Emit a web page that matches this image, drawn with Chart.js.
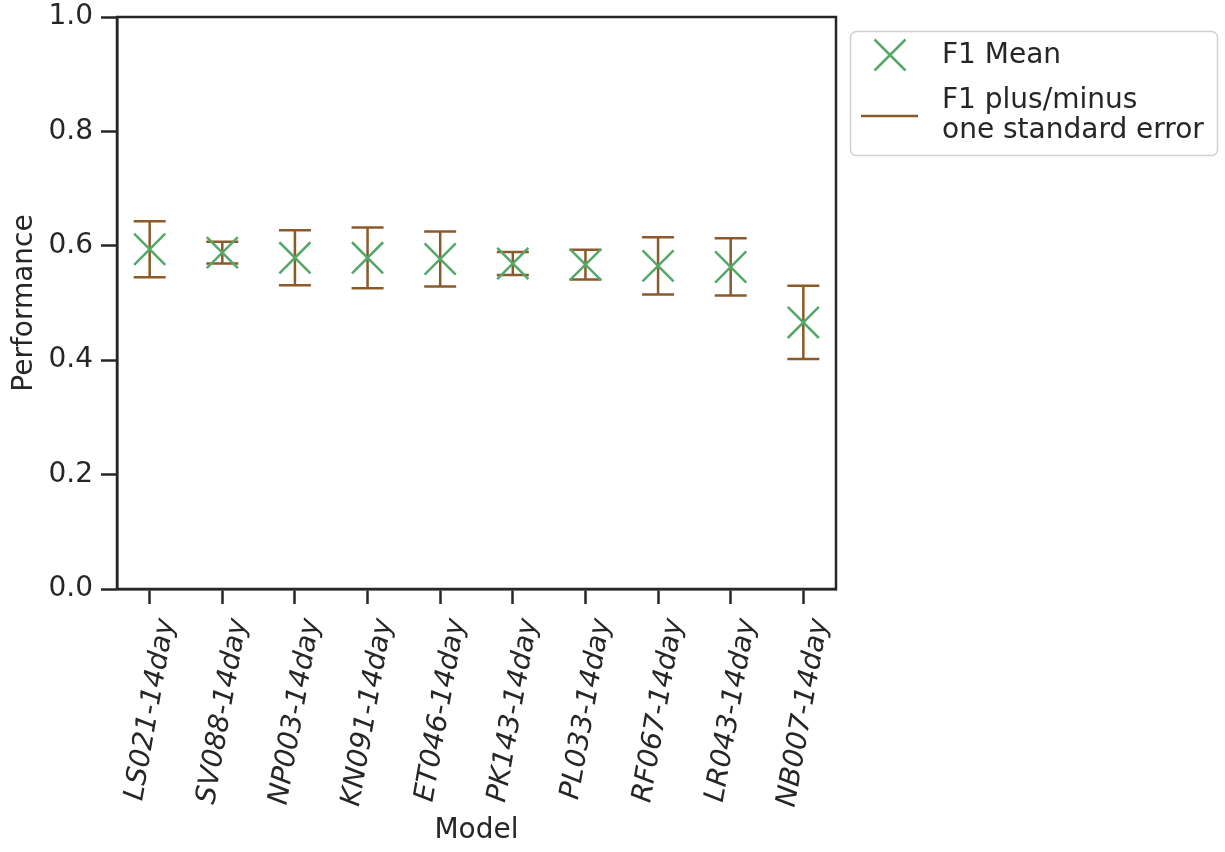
<!DOCTYPE html>
<html>
<head>
<meta charset="utf-8">
<title>F1 performance by model</title>
<script src="https://cdn.jsdelivr.net/npm/chart.js@4.4.1/dist/chart.umd.min.js"></script>
<style>
  html, body { margin: 0; padding: 0; background: #ffffff; }
  #wrap { width: 1225px; height: 852px; }
</style>
</head>
<body>
<div id="wrap"><canvas id="chart" width="1225" height="852"></canvas></div>
<script>
// Models, in the order plotted
const models = [
  'LS021-14day', 'SV088-14day', 'NP003-14day', 'KN091-14day', 'ET046-14day',
  'PK143-14day', 'PL033-14day', 'RF067-14day', 'LR043-14day', 'NB007-14day'
];
// Mean F1 score per model
const f1Mean = [0.594, 0.588, 0.579, 0.579, 0.577, 0.569, 0.567, 0.565, 0.563, 0.466];
// One standard error of the F1 score per model
const f1StdErr = [0.049, 0.019, 0.048, 0.053, 0.048, 0.020, 0.026, 0.050, 0.050, 0.064];
// Y axis ticks
const yTicks = [0.0, 0.2, 0.4, 0.6, 0.8, 1.0];

const INK = '#262626';
const GREEN = '#55a868';
const BROWN = '#8b5a2b';
const FONT = '"DejaVu Sans", "Liberation Sans", sans-serif';
const FS = 28;

const meanPoints = f1Mean.map((m, i) => ({ x: i, y: m }));
// each error bar: lower end, upper end, then a gap so bars stay separate
const errorPoints = [];
f1Mean.forEach((m, i) => {
  errorPoints.push({ x: i, y: m - f1StdErr[i] });
  errorPoints.push({ x: i, y: m + f1StdErr[i] });
  errorPoints.push({ x: i, y: null });
});

// full box around the plotting area
const frame = {
  id: 'frame',
  afterDraw(chart) {
    const { ctx, chartArea: a } = chart;
    ctx.save();
    ctx.strokeStyle = INK;
    ctx.lineWidth = 2.5;
    ctx.strokeRect(a.left, a.top, a.right - a.left, a.bottom - a.top);
    ctx.restore();
  }
};

// legend box to the right of the plot
const sideLegend = {
  id: 'sideLegend',
  afterDraw(chart) {
    const { ctx } = chart;
    const dsMean = chart.data.datasets[0];
    const dsErr = chart.data.datasets[1];
    ctx.save();
    // box
    const bx = 850.5, by = 31.5, bw = 367, bh = 124, r = 6;
    ctx.beginPath();
    ctx.moveTo(bx + r, by);
    ctx.arcTo(bx + bw, by, bx + bw, by + bh, r);
    ctx.arcTo(bx + bw, by + bh, bx, by + bh, r);
    ctx.arcTo(bx, by + bh, bx, by, r);
    ctx.arcTo(bx, by, bx + bw, by, r);
    ctx.closePath();
    ctx.fillStyle = 'rgba(255,255,255,0.8)';
    ctx.fill();
    ctx.strokeStyle = '#d0d0d0';
    ctx.lineWidth = 1.5;
    ctx.stroke();

    // X marker
    const cx = 890, cy = 55, half = 15.5;
    ctx.strokeStyle = dsMean.pointBorderColor;
    ctx.lineWidth = dsMean.pointBorderWidth;
    ctx.beginPath();
    ctx.moveTo(cx - half, cy - half); ctx.lineTo(cx + half, cy + half);
    ctx.moveTo(cx + half, cy - half); ctx.lineTo(cx - half, cy + half);
    ctx.stroke();

    // line marker
    ctx.strokeStyle = dsErr.borderColor;
    ctx.lineWidth = dsErr.borderWidth;
    ctx.beginPath();
    ctx.moveTo(861, 116); ctx.lineTo(918, 116);
    ctx.stroke();

    // texts
    ctx.fillStyle = INK;
    ctx.font = FS + 'px ' + FONT;
    ctx.textAlign = 'left';
    ctx.textBaseline = 'middle';
    ctx.fillText(dsMean.label, 942, 56);
    const lines = dsErr.label.split('\n');
    ctx.fillText(lines[0], 942, 101);
    ctx.fillText(lines[1], 942, 131);
    ctx.restore();
  }
};

new Chart(document.getElementById('chart'), {
  type: 'line',
  data: {
    datasets: [
      {
        label: 'F1 Mean',
        data: meanPoints,
        showLine: false,
        pointStyle: 'crossRot',
        pointRadius: 22,
        pointHoverRadius: 22,
        pointBorderColor: GREEN,
        pointBackgroundColor: GREEN,
        pointBorderWidth: 2.5,
        borderColor: GREEN
      },
      {
        label: 'F1 plus/minus\none standard error',
        data: errorPoints,
        spanGaps: false,
        tension: 0,
        borderColor: BROWN,
        borderWidth: 2.5,
        pointStyle: 'line',
        pointRadius: 16,
        pointHoverRadius: 16,
        pointBorderColor: BROWN,
        pointBorderWidth: 2.5
      }
    ]
  },
  options: {
    responsive: false,
    animation: false,
    devicePixelRatio: 1,
    layout: {
      autoPadding: false,
      padding: { top: 17, right: 389, left: 0, bottom: 0 }
    },
    plugins: {
      legend: { display: false },
      tooltip: { enabled: false }
    },
    scales: {
      x: {
        type: 'linear',
        min: -0.45,
        max: models.length - 1 + 0.45,
        afterBuildTicks(scale) {
          scale.ticks = models.map((_, i) => ({ value: i }));
        },
        afterFit(scale) {
          scale.height = 263;
          scale.paddingLeft = 0;
          scale.paddingRight = 0;
        },
        grid: {
          drawOnChartArea: false,
          drawTicks: true,
          tickLength: 15,
          tickWidth: 2.5,
          tickColor: INK
        },
        border: { display: true, color: INK, width: 2.5 },
        ticks: {
          autoSkip: false,
          minRotation: 80,
          maxRotation: 80,
          padding: 12,
          labelOffset: 17,
          color: INK,
          font: { family: FONT, size: FS, style: 'italic' },
          callback: (v) => models[Math.round(v)]
        },
        title: {
          display: true,
          text: 'Model',
          color: INK,
          font: { family: FONT, size: FS },
          padding: { top: 4, bottom: 4 }
        }
      },
      y: {
        min: 0,
        max: 1,
        afterBuildTicks(scale) {
          scale.ticks = yTicks.map(v => ({ value: v }));
        },
        afterFit(scale) {
          scale.width = 117;
          scale.paddingTop = 0;
          scale.paddingBottom = 0;
        },
        grid: {
          drawOnChartArea: false,
          drawTicks: true,
          tickLength: 16,
          tickWidth: 2.5,
          tickColor: INK
        },
        border: { display: true, color: INK, width: 2.5 },
        ticks: {
          padding: 8,
          color: INK,
          font: { family: FONT, size: FS },
          callback: (v) => v.toFixed(1)
        },
        title: {
          display: true,
          text: 'Performance',
          color: INK,
          font: { family: FONT, size: FS },
          padding: { top: 8, bottom: 0 }
        }
      }
    }
  },
  plugins: [frame, sideLegend]
});
</script>
</body>
</html>
